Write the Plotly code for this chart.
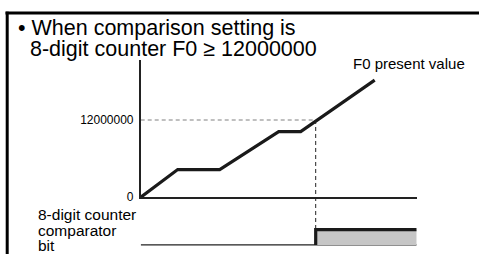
import plotly.graph_objects as go

# ---- data ----
time_pts = [0, 3.7, 7.9, 13.8, 16.0, 23.4]
present_value = [0, 4300000, 4300000, 10200000, 10200000, 18200000]
setting_value = 12000000
cross_time = 17.5
time_end = 27.6
bit_time = [cross_time, cross_time, time_end]
bit_state = [0, 1, 1]
y_tick_vals = [0, 12000000]
y_tick_text = ["0", "12000000"]

W, H = 479, 261
FONT = "Liberation Sans, Arial, Helvetica, sans-serif"

x_left_px, x_right_px = 140.7, 416.7
y_zero_px, y_set_px, y_top_px = 202.7, 123.3, 62.0
px_per_unit = (y_zero_px - y_set_px) / setting_value
y_top_val = (y_zero_px - y_top_px) / px_per_unit

bit_low_px, bit_high_px = 251.7, 236.0
bit_pad = 0.25
bit_ppu = bit_low_px - bit_high_px
bit_dom_bottom = bit_low_px + bit_pad * bit_ppu
bit_dom_top = bit_high_px - bit_pad * bit_ppu

def py(p):
    return (H - p) / H

def px(p):
    return p / W

fig = go.Figure()

fig.add_trace(go.Scatter(x=[0, cross_time], y=[setting_value, setting_value], mode="lines",
                         line=dict(color="#808080", width=1.2, dash="4px,3px"),
                         hoverinfo="skip", showlegend=False, xaxis="x", yaxis="y"))
fig.add_trace(go.Scatter(x=time_pts, y=present_value, mode="lines",
                         line=dict(color="#1a1a1a", width=3.2),
                         hoverinfo="skip", showlegend=False, xaxis="x", yaxis="y"))
fig.add_trace(go.Scatter(x=[0, time_end], y=[0, 0], mode="lines",
                         line=dict(color="#222222", width=1.2),
                         hoverinfo="skip", showlegend=False, xaxis="x2", yaxis="y2"))
fig.add_trace(go.Scatter(x=[cross_time, time_end, time_end, cross_time, cross_time],
                         y=[0, 0, 1, 1, 0], mode="lines", fill="toself",
                         fillcolor="#c6c6c6", line=dict(width=0),
                         hoverinfo="skip", showlegend=False, xaxis="x2", yaxis="y2"))
fig.add_trace(go.Scatter(x=bit_time, y=bit_state, mode="lines",
                         line=dict(color="#1a1a1a", width=3.2),
                         hoverinfo="skip", showlegend=False, xaxis="x2", yaxis="y2"))

shapes = [
    dict(type="line", xref="x", yref="paper", x0=cross_time, x1=cross_time,
         y0=py(y_set_px), y1=py(bit_high_px),
         line=dict(color="#222222", width=1, dash="4px,3px")),
    dict(type="line", xref="paper", yref="paper", x0=px(5.5), x1=1.0,
         y0=py(13.4), y1=py(13.4), line=dict(color="black", width=3)),
    dict(type="line", xref="paper", yref="paper", x0=px(7.2), x1=px(7.2),
         y0=py(12), y1=0, line=dict(color="black", width=3)),
]

def label(text, x, y, size):
    return dict(text=text, x=px(x), y=py(y), xref="paper", yref="paper",
                xanchor="left", yanchor="middle", showarrow=False, borderpad=0,
                font=dict(size=size, color="black", family=FONT))

annotations = [
    label("• When comparison setting is", 16.5, 28.8, 21.5),
    label("8-digit counter F0 ≥ 12000000", 29, 50.3, 21.5),
    label("F0 present value", 352, 65.5, 15),
    label("8-digit counter", 37, 220.7, 15.5),
    label("comparator", 37, 236.8, 15.5),
    label("bit", 37, 252.5, 15.5),
]

fig.update_layout(
    width=W, height=H, margin=dict(l=0, r=0, t=0, b=0),
    paper_bgcolor="white", plot_bgcolor="rgba(0,0,0,0)",
    font=dict(family=FONT, color="black"),
    xaxis=dict(domain=[px(x_left_px), px(x_right_px)], range=[0, time_end], anchor="y",
               showline=True, linecolor="#222222", linewidth=1.5, showgrid=False,
               zeroline=False, showticklabels=False, ticks=""),
    yaxis=dict(domain=[py(y_zero_px), py(y_top_px)], range=[0, y_top_val], anchor="x",
               showline=True, linecolor="#222222", linewidth=1.5, showgrid=False,
               zeroline=False, tickvals=y_tick_vals, ticktext=y_tick_text, ticks="",
               tickfont=dict(size=12, color="black", family=FONT), ticklabelstandoff=3),
    xaxis2=dict(domain=[px(x_left_px), px(x_right_px)], range=[0, time_end], anchor="y2",
                matches="x", showline=False, showgrid=False, zeroline=False,
                showticklabels=False, ticks=""),
    yaxis2=dict(domain=[py(bit_dom_bottom), py(bit_dom_top)], range=[-bit_pad, 1 + bit_pad],
                anchor="x2", showline=False, showgrid=False, zeroline=False,
                showticklabels=False, ticks=""),
    shapes=shapes, annotations=annotations,
)

fig.write_html("out.html", config={"displayModeBar": False},
               post_script="document.body.style.margin='0';")
